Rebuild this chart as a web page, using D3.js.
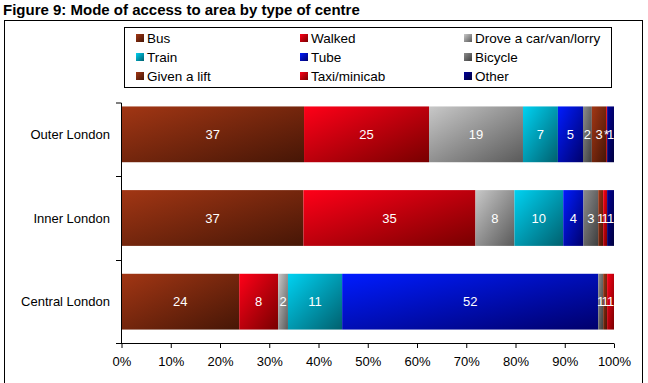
<!DOCTYPE html>
<html>
<head>
<meta charset="utf-8">
<script src="https://cdn.jsdelivr.net/npm/d3@7"></script>
<style>
  html, body { margin: 0; padding: 0; background: #fff; }
  svg { display: block; font-family: "Liberation Sans", Arial, sans-serif; }
</style>
</head>
<body>
<svg id="chart" width="648" height="383"></svg>
<script>
// ---- Data ----
const title = "Figure 9: Mode of access to area by type of centre";
const categories = ["Outer London", "Inner London", "Central London"];
const modes = ["Bus", "Walked", "Drove a car/van/lorry", "Train", "Tube", "Bicycle", "Given a lift", "Taxi/minicab", "Other"];
const bus       = [37.1, 36.9, 23.9];
const walked    = [25.4, 34.9, 7.9];
const drove     = [19.1, 7.9, 2.0];
const train     = [7.1, 9.9, 11.0];
const tube      = [5.1, 4.1, 52.0];
const bicycle   = [1.8, 3.0, 1.0];
const givenLift = [2.9, 1.0, 0.8];
const taxi      = [0.2, 0.8, 1.4];
const other     = [1.4, 1.4, 0.0];
const xTicks = [0, 0.1, 0.2, 0.3, 0.4, 0.5, 0.6, 0.7, 0.8, 0.9, 1.0];

const seriesValues = [bus, walked, drove, train, tube, bicycle, givenLift, taxi, other];
// gradient colour pairs (light top-left -> dark bottom-right)
const colours = [
  ["#a23614", "#461606"],
  ["#ff0018", "#780000"],
  ["#c8c8c8", "#5a5a5a"],
  ["#00d2f2", "#00606e"],
  ["#001cff", "#00006c"],
  ["#8c8c8c", "#3e3e3e"],
  ["#a23614", "#461606"],
  ["#ff0018", "#780000"],
  ["#00009a", "#00003c"]
];

// ---- Build table ----
const table = categories.map((c, i) => {
  const row = { category: c };
  modes.forEach((m, j) => row[m] = seriesValues[j][i]);
  return row;
});

const svg = d3.select("#chart");

// gradients
const defs = svg.append("defs");
modes.forEach((m, j) => {
  const g = defs.append("linearGradient")
    .attr("id", "grad" + j)
    .attr("x1", 0).attr("y1", 0).attr("x2", 1).attr("y2", 1);
  g.append("stop").attr("offset", "0%").attr("stop-color", colours[j][0]);
  g.append("stop").attr("offset", "100%").attr("stop-color", colours[j][1]);
});

// outer frame
svg.append("rect")
  .attr("x", 4.5).attr("y", 20.5)
  .attr("width", 638).attr("height", 400)
  .attr("fill", "none").attr("stroke", "#000").attr("stroke-width", 1);

// title
svg.append("text")
  .attr("x", 3).attr("y", 15)
  .attr("font-size", 15).attr("font-weight", "bold")
  .attr("fill", "#000")
  .text(title);

// scales
const x = d3.scaleLinear().domain([0, 1]).range([121.5, 614]);
const y = d3.scaleBand().domain(categories).range([92.5, 343.5])
  .paddingInner(1 / 3).paddingOuter(1 / 6);

const stack = d3.stack().keys(modes).offset(d3.stackOffsetExpand);
const stacked = stack(table);

// bars
const layers = svg.append("g").selectAll("g")
  .data(stacked).join("g")
  .attr("fill", (d, j) => `url(#grad${j})`);

layers.selectAll("rect")
  .data(d => d.map(p => ({ p, key: d.key })))
  .join("rect")
  .attr("x", d => x(d.p[0]))
  .attr("y", d => y(d.p.data.category))
  .attr("width", d => Math.max(0, x(d.p[1]) - x(d.p[0])))
  .attr("height", y.bandwidth());

// bar labels
const fmt = v => v <= 0 ? "" : (v < 0.5 ? "*" : String(Math.round(v)));
const labelG = svg.append("g");
stacked.forEach(layer => {
  layer.forEach(p => {
    const v = p.data[layer.key];
    const t = fmt(v);
    if (!t) return;
    labelG.append("text")
      .attr("x", (x(p[0]) + x(p[1])) / 2)
      .attr("y", y(p.data.category) + y.bandwidth() / 2)
      .attr("dy", "0.36em")
      .attr("text-anchor", "middle")
      .attr("font-size", 13)
      .attr("fill", "#fff")
      .text(t);
  });
});

// y axis
const plotTop = 103;
const yAxisG = svg.append("g").attr("stroke", "#000").attr("stroke-width", 1);
yAxisG.append("line")
  .attr("x1", x(0)).attr("x2", x(0))
  .attr("y1", plotTop).attr("y2", 343.5);
const bounds = [plotTop].concat(categories.slice(1).map(c => Math.round(y(c) - y.step() * y.paddingInner() / 2) + 0.5));
yAxisG.selectAll("line.tick").data(bounds).join("line")
  .attr("class", "tick")
  .attr("x1", x(0) - 5.5).attr("x2", x(0))
  .attr("y1", d => d).attr("y2", d => d);

svg.append("g").selectAll("text").data(categories).join("text")
  .attr("x", 110)
  .attr("y", d => y(d) + y.bandwidth() / 2)
  .attr("dy", "0.36em")
  .attr("text-anchor", "end")
  .attr("font-size", 13)
  .attr("fill", "#000")
  .text(d => d);

// x axis
const xAxis = d3.axisBottom(x).tickValues(xTicks)
  .tickFormat(d3.format(".0%")).tickSize(4.5).tickPadding(9).tickSizeOuter(0);
const xg = svg.append("g").attr("transform", "translate(0,343.5)").call(xAxis);
xg.select(".domain").attr("d", `M${x(0) - 5.5},0H${x(1)}`).attr("stroke", "#000");
xg.selectAll(".tick line").attr("stroke", "#000");
xg.selectAll(".tick text")
  .attr("font-size", 13)
  .attr("font-family", "Liberation Sans, Arial, sans-serif")
  .attr("fill", "#000");

// legend
const legend = svg.append("g");
legend.append("rect")
  .attr("x", 124.5).attr("y", 27.5)
  .attr("width", 487).attr("height", 60)
  .attr("fill", "#fff").attr("stroke", "#000").attr("stroke-width", 1);
const colX = [136, 300, 464];
const rowY = [38, 57, 76];
modes.forEach((m, j) => {
  const cx = colX[j % 3], cy = rowY[Math.floor(j / 3)];
  legend.append("rect")
    .attr("x", cx).attr("y", cy - 4)
    .attr("width", 8).attr("height", 8)
    .attr("fill", `url(#grad${j})`);
  legend.append("text")
    .attr("x", cx + 11).attr("y", cy)
    .attr("dy", "0.36em")
    .attr("font-size", 13.5)
    .attr("fill", "#000")
    .text(m);
});
</script>
</body>
</html>
